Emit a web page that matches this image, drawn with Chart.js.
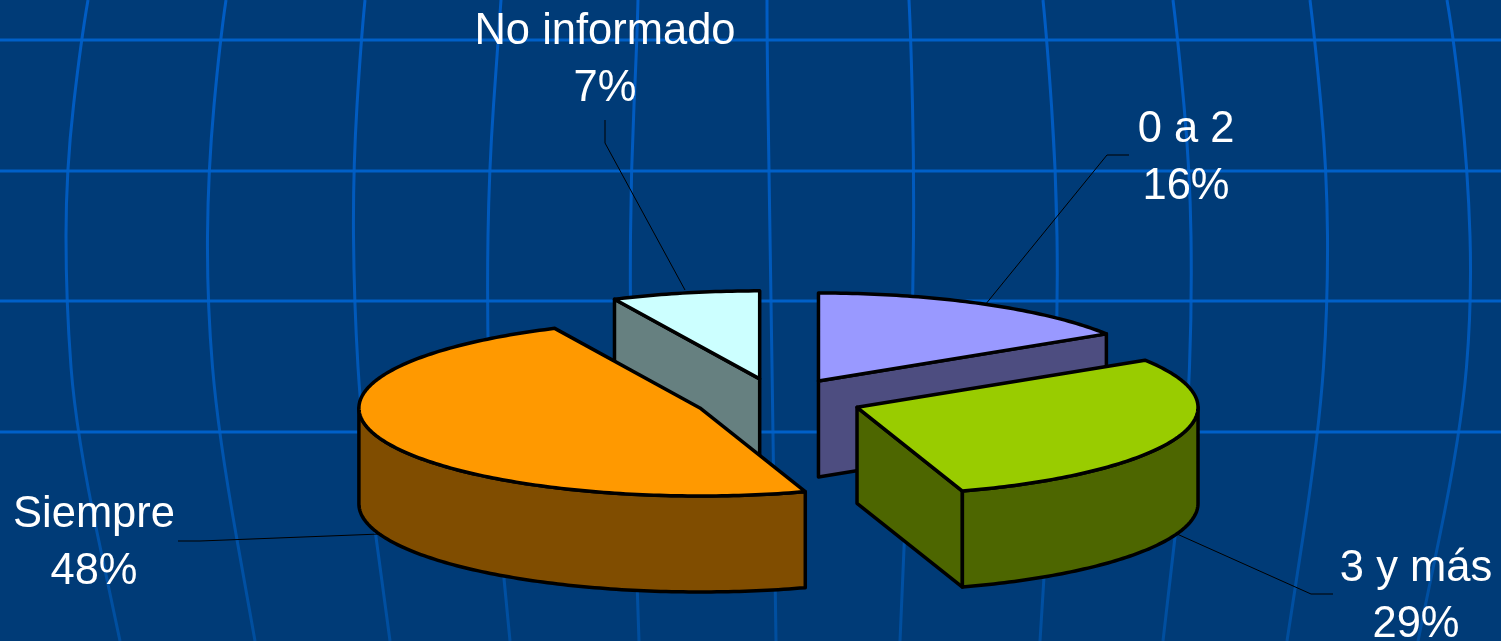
<!DOCTYPE html>
<html>
<head>
<meta charset="utf-8">
<style>html,body{margin:0;padding:0;background:#003B77;overflow:hidden}canvas{display:block}</style>
<script src="https://cdn.jsdelivr.net/npm/chart.js@4/dist/chart.umd.min.js"></script>
</head>
<body>
<canvas id="c" width="1501" height="641"></canvas>
<script>
const categories = ['0 a 2', '3 y más', 'Siempre', 'No informado'];
const values = [16, 29, 48, 7];
const topColors = ['#9999FF', '#99CC00', '#FF9900', '#CCFFFF'];
const sideColors = ['#4D4D80', '#4D6600', '#804D00', '#668080'];
const paintOrder = [3, 0, 2, 1];

// Projection of the pie onto the page
const CENTER_X = 778, CENTER_Y = 400, RADIUS_X = 341, RADIUS_Y = 88, DEPTH = 96, EXPLODE = 0.2463;

// Label layout, by category index
const labelBoxes = [
  {x: 1186, y: 142, y2: 199},
  {x: 1416, y: 581, y2: 637},
  {x: 94, y: 527, y2: 584},
  {x: 605, y: 44, y2: 101}
];
const leaders = [
  [[1129, 155], [1107, 155], [985, 305]],
  [[1333, 594], [1311, 594], [1177, 534]],
  [[178, 541], [200, 541], [380, 534]],
  [[605, 120], [605, 143], [685, 290]]
];

// Slide backdrop
const backdropRows = [40, 171, 301, 432];
const backdropCurves = [
  [[88,0],[81,40],[66,171],[66,301],[76,433],[120,641]],
  [[226,0],[220,40],[208,171],[207,301],[218,433],[255,641]],
  [[365,0],[361,40],[353,171],[354,301],[362,433],[390,641]],
  [[501,0],[498,40],[489,171],[487,301],[490,433],[510,641]],
  [[638,0],[637,40],[631,171],[630,301],[632,433],[639,641]],
  [[767,0],[767,40],[769,171],[771,301],[773,433],[776,641]],
  [[909,0],[911,40],[914,171],[913,301],[909,433],[900,641]],
  [[1043,0],[1047,40],[1056,171],[1058,301],[1053,433],[1040,641]],
  [[1173,0],[1178,40],[1190,171],[1192,301],[1187,433],[1163,641]],
  [[1310,0],[1315,40],[1327,171],[1328,301],[1319,433],[1287,641]],
  [[1447,0],[1454,40],[1468,171],[1472,301],[1461,433],[1418,641]]
];

function drawBackdrop(ctx) {
  ctx.save();
  ctx.fillStyle = '#003B77';
  ctx.fillRect(0, 0, 1501, 641);
  const grad = ctx.createLinearGradient(0, 0, 0, 641);
  grad.addColorStop(0, '#005CC4');
  grad.addColorStop(0.55, '#0058B8');
  grad.addColorStop(1, '#004E9E');
  ctx.strokeStyle = grad;
  ctx.lineWidth = 3;
  backdropCurves.forEach(pts => {
    ctx.beginPath();
    ctx.moveTo(pts[0][0], pts[0][1]);
    for (let i = 1; i < pts.length - 1; i++) {
      const mx = (pts[i][0] + pts[i + 1][0]) / 2, my = (pts[i][1] + pts[i + 1][1]) / 2;
      ctx.quadraticCurveTo(pts[i][0], pts[i][1], mx, my);
    }
    const last = pts[pts.length - 1];
    ctx.lineTo(last[0], last[1]);
    ctx.stroke();
  });
  ctx.strokeStyle = '#0060C8';
  backdropRows.forEach(y => {
    ctx.beginPath();
    ctx.moveTo(0, y);
    ctx.lineTo(1501, y);
    ctx.stroke();
  });
  ctx.restore();
}

function drawSlice(ctx, el, i) {
  const R = el.outerRadius;
  const sx = RADIUS_X / R, sy = RADIUS_Y / R;
  const a = el.startAngle, b = el.endAngle, mid = (a + b) / 2;
  const d = EXPLODE * R;
  const ox = Math.cos(mid) * d, oy = Math.sin(mid) * d;
  const apexX = CENTER_X + ox * sx, apexY = CENTER_Y + oy * sy;
  const rim = t => [apexX + Math.cos(t) * RADIUS_X, apexY + Math.sin(t) * RADIUS_Y];
  const arcPts = (from, to) => {
    const n = Math.max(2, Math.ceil(Math.abs(to - from) * 60));
    const out = [];
    for (let k = 0; k <= n; k++) out.push(rim(from + (to - from) * k / n));
    return out;
  };
  const outline = (pts, fill) => {
    ctx.beginPath();
    pts.forEach((p, k) => k ? ctx.lineTo(p[0], p[1]) : ctx.moveTo(p[0], p[1]));
    ctx.closePath();
    if (fill) { ctx.fillStyle = fill; ctx.fill(); }
    ctx.stroke();
  };
  ctx.save();
  ctx.lineJoin = 'round';
  ctx.strokeStyle = '#000';
  ctx.lineWidth = 3.5;

  // Side walls that face the viewer
  const wall = t => {
    const p = rim(t);
    outline([[apexX, apexY], p, [p[0], p[1] + DEPTH], [apexX, apexY + DEPTH]], sideColors[i]);
  };
  if (Math.sin(a - Math.PI / 2) > 1e-3) wall(a);
  if (Math.sin(b + Math.PI / 2) > 1e-3) wall(b);

  // Outer rim wall: only the front half of the ellipse shows
  const windows = [[0, Math.PI], [2 * Math.PI, 3 * Math.PI]];
  windows.forEach(w => {
    const from = Math.max(a, w[0]), to = Math.min(b, w[1]);
    if (to > from) {
      const upper = arcPts(from, to);
      const lower = upper.map(p => [p[0], p[1] + DEPTH]).reverse();
      outline(upper.concat(lower), sideColors[i]);
    }
  });

  // Top face, drawn by the library's own arc element
  ctx.save();
  ctx.translate(apexX, apexY);
  ctx.scale(sx, sy);
  ctx.translate(-el.x, -el.y);
  el.draw(ctx);
  ctx.restore();
  outline([[apexX, apexY]].concat(arcPts(a, b)), null);
  ctx.restore();
}

const pie3d = {
  id: 'pie3d',
  beforeDraw(chart) { drawBackdrop(chart.ctx); },
  beforeDatasetsDraw(chart) {
    const arcs = chart.getDatasetMeta(0).data;
    paintOrder.forEach(i => drawSlice(chart.ctx, arcs[i], i));
    return false;
  },
  afterDraw(chart) {
    const ctx = chart.ctx;
    ctx.save();
    ctx.strokeStyle = '#000';
    ctx.lineWidth = 1;
    leaders.forEach(l => {
      ctx.beginPath();
      l.forEach((p, k) => k ? ctx.lineTo(p[0], p[1]) : ctx.moveTo(p[0], p[1]));
      ctx.stroke();
    });
    ctx.fillStyle = '#FFFFFF';
    ctx.font = '43.5px "Liberation Sans", Arial, sans-serif';
    ctx.textAlign = 'center';
    ctx.textBaseline = 'alphabetic';
    categories.forEach((name, i) => {
      const box = labelBoxes[i];
      ctx.fillText(name, box.x, box.y);
      ctx.fillText(values[i] + '%', box.x, box.y2);
    });
    ctx.restore();
  }
};

new Chart(document.getElementById('c'), {
  type: 'pie',
  data: {
    labels: categories,
    datasets: [{ data: values, backgroundColor: topColors, borderWidth: 0 }]
  },
  options: {
    responsive: false,
    animation: false,
    layout: { padding: 0 },
    plugins: { legend: { display: false }, tooltip: { enabled: false } }
  },
  plugins: [pie3d]
});
</script>
</body>
</html>
